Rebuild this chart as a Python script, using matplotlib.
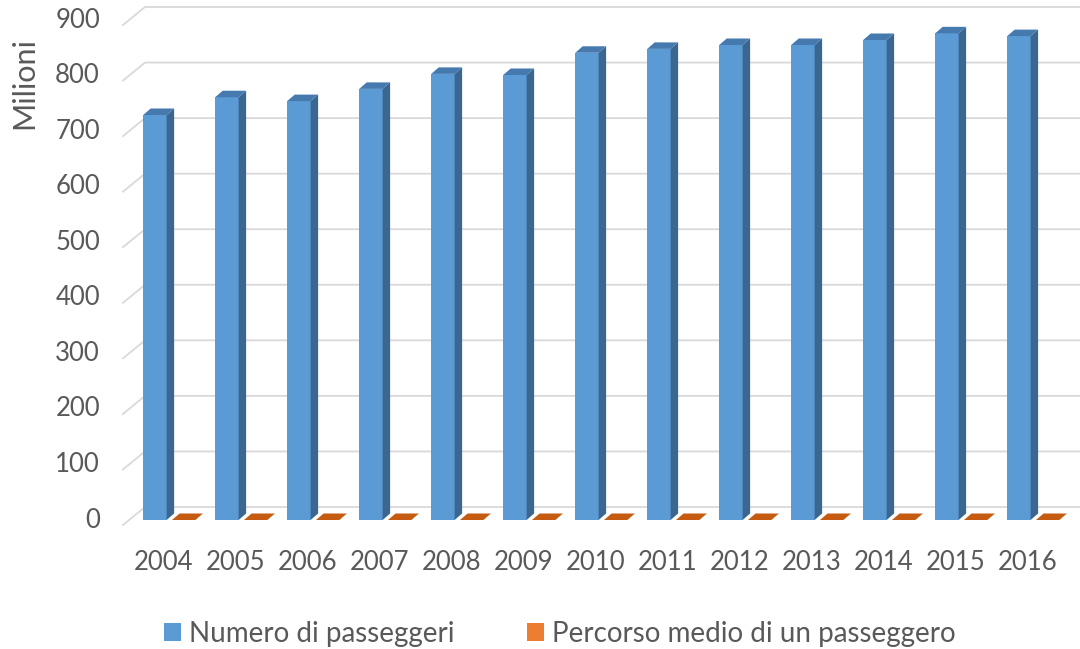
import numpy as np
import matplotlib.pyplot as plt
from matplotlib.patches import Polygon, Patch
from matplotlib.transforms import offset_copy

# ---- data ----
anni = ['2004', '2005', '2006', '2007', '2008', '2009', '2010',
        '2011', '2012', '2013', '2014', '2015', '2016']
passeggeri = [729, 761, 754, 776, 803, 801, 841, 848, 855, 855, 864, 876, 871]  # milioni
percorso = [0, 0, 0, 0, 0, 0, 0, 0, 0, 0, 0, 0, 0]  # ~0 on this scale
y_ticks = [0, 100, 200, 300, 400, 500, 600, 700, 800, 900]

# ---- style ----
BLUE_FRONT, BLUE_SIDE, BLUE_TOP = '#5b9bd5', '#3a6690', '#4679ad'
ORANGE, ORANGE_TOP = '#ed7d31', '#c55a11'
GRID = '#d9d9d9'
TXT = '#595959'
plt.rcParams['font.family'] = ['Lato', 'DejaVu Sans']

W, H, DPI = 1080, 649, 100
fig = plt.figure(figsize=(W / DPI, H / DPI), dpi=DPI)
# axes = the plane where the bar fronts sit
ax = fig.add_axes([129 / W, (H - 520) / H, (W - 129) / W, 520 / H])
ax.set_xlim(-0.5625, 12.646)
ax.set_ylim(0, 936)
ax.axis('off')

x = np.arange(len(anni))
bar_w = 0.325


def px2data(dx, dy):
    """convert a pixel offset into a data offset"""
    p0 = ax.transData.transform((0, 0))
    p1 = ax.transData.inverted().transform(p0 + np.array([dx, dy]))
    return p1[0], p1[1]


front_dx, front_dy = px2data(-6, -5)    # floor front edge
back_dx, back_dy = px2data(16, 13)      # back wall
bar_dx, bar_dy = px2data(7.5, 6.5)      # bar depth

# gridlines: slanted on the side wall, horizontal on the back wall
x0, x1 = ax.get_xlim()
for t in y_ticks:
    ax.plot([x0 + front_dx, x0 + back_dx, x1 + back_dx],
            [t + front_dy, t + back_dy, t + back_dy],
            color=GRID, lw=1.3, zorder=0, clip_on=False)


def bar3d(left, val, front, side, top):
    right = left + bar_w
    if val > 0:
        ax.bar(left, val, width=bar_w, align='edge', color=front, lw=0, zorder=2)
        ax.add_patch(Polygon([(right, 0), (right, val), (right + bar_dx, val + bar_dy),
                              (right + bar_dx, bar_dy)], closed=True,
                             facecolor=side, lw=0, zorder=2))
    ax.add_patch(Polygon([(left, val), (right, val), (right + bar_dx, val + bar_dy),
                          (left + bar_dx, val + bar_dy)], closed=True,
                         facecolor=top, lw=0, zorder=2))


for i in x:
    bar3d(i - 0.365, passeggeri[i], BLUE_FRONT, BLUE_SIDE, BLUE_TOP)
    bar3d(i + 0.035, percorso[i], ORANGE, ORANGE_TOP, ORANGE_TOP)

# category labels on the floor front edge
lab_tr = offset_copy(ax.transData, fig=fig, x=-6, y=-42, units='dots')
for i, a in enumerate(anni):
    ax.text(i, 0, a, transform=lab_tr, ha='center', va='center',
            fontsize=18.5, color=TXT)

# value labels
val_tr = offset_copy(ax.transData, fig=fig, x=-29, y=0, units='dots')
for t in y_ticks:
    ax.text(x0, t, str(t), transform=val_tr, ha='right', va='center',
            fontsize=18.5, color=TXT)

fig.text(24 / W, 1 - 83 / H, 'Milioni', rotation=90, ha='center', va='center',
         fontsize=22, color=TXT)

handles = [Patch(facecolor=BLUE_FRONT, label='Numero di passeggeri'),
           Patch(facecolor=ORANGE, label='Percorso medio di un passeggero')]
fig.legend(handles=handles, loc='center', bbox_to_anchor=(560 / W, 1 - 634 / H),
           ncol=2, frameon=False, fontsize=20, labelcolor=TXT,
           handlelength=0.6, handleheight=0.6, handletextpad=0.3,
           columnspacing=2.6)

fig.savefig('out.png', dpi=DPI)
